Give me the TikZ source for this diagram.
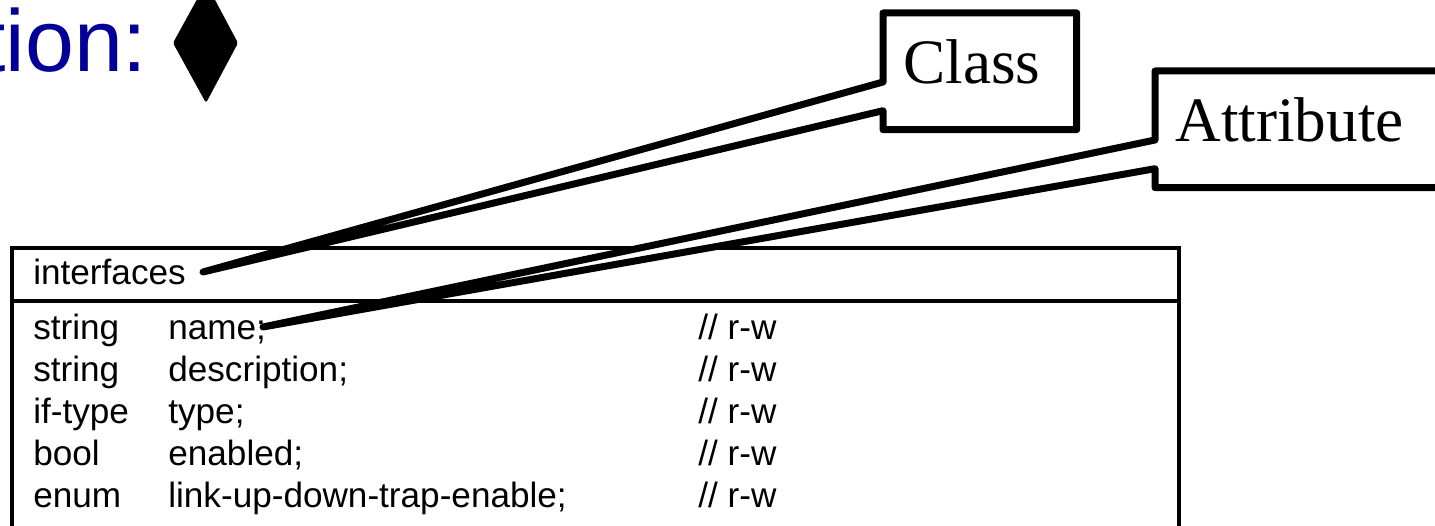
\documentclass[tikz,border=0pt]{standalone}
\usepackage{fontspec}
\setmainfont{Liberation Sans}
\newfontfamily\notefont{Liberation Serif}
\usetikzlibrary{calc}
\definecolor{titleblue}{RGB}{0,0,153}

\begin{document}
\begin{tikzpicture}[
    x=0.02cm, y=-0.02cm,
    every node/.style = {inner sep=0pt},
    cell/.style = {anchor=base west, font=\fontsize{20}{24}\selectfont},
    note/.style = {anchor=north west, fill=white, font=\notefont\fontsize{36}{43}\selectfont,
      minimum height=2.32cm, inner xsep=0.4cm, align=left,
      text height=0.84cm, text depth=0.36cm},
    callout/.style = {draw, line width=0.14cm, line join=round},
    classbox/.style = {draw, line width=0.09cm},
  ]
  \useasboundingbox (0,0) rectangle (1435,526);
  \clip (0,0) rectangle (1435,526);

  % title and the filled diamond
  \node[anchor=base west, text=titleblue, font=\fontsize{50}{60}\selectfont] (title) at (-19,72) {tion:};
  \fill[rounded corners=1pt] (206,-17) -- (238,43) -- (206,103) -- (173,43) -- cycle;

  % class box
  \draw[classbox] (12,560) |- (1179,248) -- (1179,560);
  \draw[classbox] (12,301) -- (1179,301);
  \node[cell] (hdr) at (33,285) {interfaces};
  \foreach \t/\n [count=\i] in {string/name;, string/description;, if-type/type;,
      bool/enabled;, enum/link-up-down-trap-enable;} {
    \node[cell] (ty\i) at (33,297+42*\i) {\t};
    \node[cell] (nm\i) at (168,297+42*\i) {\n};
    \node[cell] (rw\i) at (698,297+42*\i) {// r-w};
  }

  % callouts
  \node[note, text width=3.06cm] (classnote) at (883,13) {Class};
  \node[note, text width=5.1cm] (attrnote) at (1155,71) {Attribute};
  \coordinate (classtip) at (203,272);
  \coordinate (attrtip) at (263,327);
  \foreach \b/\p in {classnote/classtip, attrnote/attrtip} {
    \fill[white] (\p) -- ($(\b.north west)+(0,69)$) -- ($(\b.south west)+(0,-19)$) -- cycle;
    \draw[callout] (\p) -- ($(\b.north west)+(0,69)$) -- (\b.north west) -- (\b.north east)
      -- (\b.south east) -- (\b.south west) -- ($(\b.south west)+(0,-19)$) -- cycle;
  }
\end{tikzpicture}
\end{document}
